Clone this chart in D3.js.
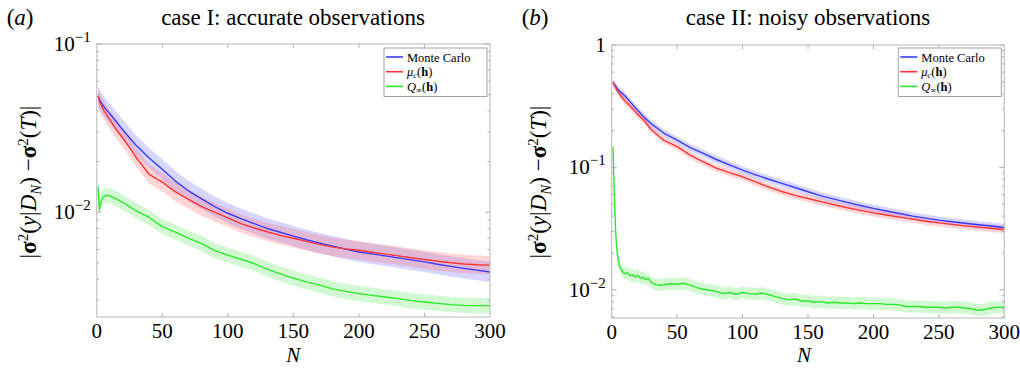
<!DOCTYPE html>
<html>
<head>
<meta charset="utf-8">
<script src="https://cdn.jsdelivr.net/npm/d3@7"></script>
<style>
  body { margin: 0; background: #fff; }
  svg { display: block; font-family: "Liberation Serif", "Times New Roman", serif; }
</style>
</head>
<body>
<svg id="chart" width="1020" height="369"></svg>
<script>
// sample sizes shared by the smooth curves
const nGrid = [1, 2, 3, 5, 7, 10, 15, 20, 25, 30, 40, 50, 60, 70, 80, 90, 100, 110, 120, 130, 140,
  150, 160, 170, 180, 190, 200, 210, 220, 230, 240, 250, 260, 270, 280, 290, 300];

// (a) case I: accurate observations
const mcA = [0.0490, 0.0470, 0.0455, 0.0430, 0.0410, 0.0385, 0.0345, 0.0308, 0.0277, 0.0250, 0.0210,
  0.0180, 0.0153, 0.0134, 0.0120, 0.0108, 0.00985, 0.00915, 0.00855, 0.00800, 0.00760,
  0.00720, 0.00685, 0.00655, 0.00628, 0.00603, 0.00580, 0.00565, 0.00550, 0.00535, 0.00520,
  0.00506, 0.00490, 0.00476, 0.00463, 0.00452, 0.00441];
const muA = [0.0490, 0.0460, 0.0440, 0.0410, 0.0385, 0.0355, 0.0310, 0.0275, 0.0243, 0.0212, 0.0168,
  0.0151, 0.0132, 0.0119, 0.0108, 0.0100, 0.00925, 0.00855, 0.00805, 0.00765, 0.00728,
  0.00700, 0.00670, 0.00643, 0.00620, 0.00605, 0.00594, 0.00578, 0.00563, 0.00550, 0.00536,
  0.00523, 0.00511, 0.00500, 0.00492, 0.00487, 0.00484];
const qA = [0.0142, 0.0103, 0.0115, 0.0123, 0.0126, 0.0125, 0.0120, 0.0114, 0.0108, 0.0102, 0.0093,
  0.0082, 0.0076, 0.0070, 0.0065, 0.0059, 0.00555, 0.00525, 0.00495, 0.00458, 0.00430,
  0.00405, 0.00385, 0.00368, 0.00350, 0.00338, 0.00328, 0.00320, 0.00313, 0.00306, 0.00298,
  0.00292, 0.00287, 0.00282, 0.00279, 0.00278, 0.00278];

// (b) case II: noisy observations
const mcB = [0.492, 0.475, 0.460, 0.430, 0.410, 0.385, 0.335, 0.292, 0.255, 0.228, 0.190,
  0.167, 0.145, 0.130, 0.116, 0.105, 0.095, 0.087, 0.080, 0.0740, 0.0685,
  0.0632, 0.0585, 0.0550, 0.0518, 0.0488, 0.0462, 0.0440, 0.0420, 0.0400, 0.0385,
  0.0371, 0.0360, 0.0350, 0.0340, 0.0332, 0.0323];
const muB = [0.492, 0.470, 0.450, 0.410, 0.385, 0.350, 0.310, 0.270, 0.240, 0.205, 0.166,
  0.148, 0.126, 0.111, 0.0985, 0.0905, 0.0838, 0.0760, 0.0690, 0.0635, 0.0590,
  0.0557, 0.0525, 0.0495, 0.0468, 0.0445, 0.0425, 0.0408, 0.0392, 0.0378, 0.0363,
  0.0352, 0.0342, 0.0333, 0.0325, 0.0318, 0.0311];
const nQB = [1, 2, 3, 4, 5, 6, 8, 10, 12, 14, 16, 18, 20, 22, 24, 26, 28, 30, 32, 35,
  40, 45, 50, 55, 60, 65, 70, 75, 80, 85, 90, 95, 100, 105, 110, 115, 120, 125, 130, 135,
  140, 145, 150, 155, 160, 165, 170, 175, 180, 185, 190, 195, 200, 205, 210, 215, 220, 225,
  230, 235, 240, 245, 250, 255, 260, 265, 270, 275, 280, 285, 290, 295, 300];
const qB = [0.147, 0.060, 0.030, 0.021, 0.0175, 0.0155, 0.0142, 0.0135, 0.0138, 0.0130, 0.0133,
  0.0127, 0.0131, 0.0124, 0.0127, 0.0121, 0.0124, 0.0116, 0.0112, 0.0109,
  0.0110, 0.0112, 0.0111, 0.0113, 0.0109, 0.0104, 0.0101, 0.0099, 0.0097, 0.0093, 0.0095, 0.0092,
  0.0095, 0.0093, 0.0092, 0.0094, 0.0091, 0.0088, 0.0085, 0.0083, 0.0084, 0.0081, 0.0081, 0.0079,
  0.0080, 0.0078, 0.0079, 0.0078, 0.0078, 0.0077, 0.0078, 0.0077, 0.0077, 0.0077, 0.0076, 0.0076,
  0.0075, 0.0073, 0.0073, 0.0073, 0.0072, 0.0072, 0.0072, 0.0071, 0.0072, 0.0072, 0.0071, 0.0070,
  0.0068, 0.0069, 0.0071, 0.0072, 0.0072];

// half width of the shaded band, in decades
const bandA = [0.06, 0.055, 0.045];
const bandB = [0.03, 0.03, 0.05];

const xTicks = [0, 50, 100, 150, 200, 250, 300];
const seriesNames = ['Monte Carlo', 'mu', 'Q'];
const lineColors = ['#3a3aff', '#ff3434', '#2ee82e'];
const bandColors = ['#6a6aff', '#ff6a6a', '#5ee85e'];

const svg = d3.select('#chart');

const panels = [
  { tag: 'a', title: 'case I: accurate observations', x0: 96.7, x1: 490, y0: 44, y1: 317,
    yDomain: [0.00238, 0.1], yLabelX: 36,
    series: [[nGrid, mcA], [nGrid, muA], [nGrid, qA]], band: bandA },
  { tag: 'b', title: 'case II: noisy observations', x0: 611.7, x1: 1004.3, y0: 45, y1: 318,
    yDomain: [0.00588, 1], yLabelX: 546,
    series: [[nGrid, mcB], [nGrid, muB], [nQB, qB]], band: bandB }
];

panels.forEach((p, pi) => {
  const x = d3.scaleLinear().domain([0, 300]).range([p.x0, p.x1]);
  const y = d3.scaleLog().domain(p.yDomain).range([p.y1, p.y0]);

  const clipId = 'clip' + pi;
  svg.append('clipPath').attr('id', clipId)
    .append('rect')
    .attr('x', p.x0).attr('y', p.y0)
    .attr('width', p.x1 - p.x0).attr('height', p.y1 - p.y0);

  const plot = svg.append('g').attr('clip-path', `url(#${clipId})`);

  // shaded bands
  p.series.forEach(([ns, vals], si) => {
    const f = Math.pow(10, p.band[si]);
    const area = d3.area()
      .x((d, i) => x(ns[i]))
      .y0((d) => y(d / f))
      .y1((d) => y(d * f));
    plot.append('path')
      .attr('d', area(vals))
      .attr('fill', bandColors[si])
      .attr('fill-opacity', 0.28);
  });

  // mean curves
  p.series.forEach(([ns, vals], si) => {
    const line = d3.line().x((d, i) => x(ns[i])).y((d) => y(d));
    plot.append('path')
      .attr('d', line(vals))
      .attr('fill', 'none')
      .attr('stroke', lineColors[si])
      .attr('stroke-width', 1.4)
      .attr('stroke-linejoin', 'round');
  });

  // frame
  svg.append('rect')
    .attr('x', p.x0).attr('y', p.y0)
    .attr('width', p.x1 - p.x0).attr('height', p.y1 - p.y0)
    .attr('fill', 'none').attr('stroke', '#c4c4c4').attr('stroke-width', 1.2);

  // x ticks (inward, top and bottom)
  const tickG = svg.append('g').attr('stroke', '#b0b0b0').attr('stroke-width', 1);
  xTicks.slice(1, -1).forEach((t) => {
    tickG.append('line').attr('x1', x(t)).attr('x2', x(t)).attr('y1', p.y1).attr('y2', p.y1 - 4);
    tickG.append('line').attr('x1', x(t)).attr('x2', x(t)).attr('y1', p.y0).attr('y2', p.y0 + 4);
  });

  // y ticks (log minor + decades, both sides)
  const [lo, hi] = p.yDomain;
  for (let e = Math.floor(Math.log10(lo)); e <= Math.ceil(Math.log10(hi)); e++) {
    for (let k = 1; k <= 9; k++) {
      const v = k * Math.pow(10, e);
      if (v < lo || v > hi) continue;
      const len = k === 1 ? 5 : 2.5;
      const yy = y(v);
      tickG.append('line').attr('x1', p.x0).attr('x2', p.x0 + len).attr('y1', yy).attr('y2', yy);
      tickG.append('line').attr('x1', p.x1).attr('x2', p.x1 - len).attr('y1', yy).attr('y2', yy);
    }
  }

  // x tick labels
  xTicks.forEach((t) => {
    svg.append('text')
      .attr('x', x(t)).attr('y', p.y1 + 21)
      .attr('text-anchor', 'middle')
      .attr('font-size', '21px')
      .text(t);
  });

  // y tick labels at decades
  for (let e = Math.ceil(Math.log10(lo)); e <= Math.floor(Math.log10(hi)); e++) {
    const t = svg.append('text')
      .attr('x', p.x0 - 6).attr('y', y(Math.pow(10, e)) + 7)
      .attr('text-anchor', 'end')
      .attr('font-size', '21px');
    if (e === 0) {
      t.text('1');
    } else {
      t.append('tspan').text('10');
      t.append('tspan').attr('dy', -9).attr('font-size', '15px').text('\u2212' + (-e));
    }
  }

  // x axis title
  svg.append('text')
    .attr('x', (p.x0 + p.x1) / 2 - (pi ? 4 : 0)).attr('y', 362)
    .attr('text-anchor', 'middle')
    .attr('font-size', '21px').attr('font-style', 'italic')
    .text('N');

  // y axis title
  const yt = svg.append('text')
    .attr('transform', `translate(${p.yLabelX},182) rotate(-90)`)
    .attr('text-anchor', 'middle')
    .attr('font-size', '23px');
  yt.append('tspan').text('|');
  yt.append('tspan').attr('font-weight', 'bold').text('\u03c3');
  yt.append('tspan').attr('dy', -8).attr('font-size', '15px').text('2');
  yt.append('tspan').attr('dy', 8).text('(');
  yt.append('tspan').attr('font-style', 'italic').text('y');
  yt.append('tspan').text('|');
  yt.append('tspan').attr('font-style', 'italic').text('D');
  yt.append('tspan').attr('dy', 5).attr('font-size', '15px').attr('font-style', 'italic').text('N');
  yt.append('tspan').attr('dy', -5).text(') \u2212');
  yt.append('tspan').attr('font-weight', 'bold').text('\u03c3');
  yt.append('tspan').attr('dy', -8).attr('font-size', '15px').text('2');
  yt.append('tspan').attr('dy', 8).text('(');
  yt.append('tspan').attr('font-style', 'italic').text('T');
  yt.append('tspan').text(')|');

  // panel tag and title
  const tag = svg.append('text')
    .attr('x', p.x0 - 90).attr('y', 25)
    .attr('font-size', '23px');
  tag.append('tspan').text('(');
  tag.append('tspan').attr('font-style', 'italic').text(p.tag);
  tag.append('tspan').text(')');

  svg.append('text')
    .attr('x', pi ? 808 : 293).attr('y', 25)
    .attr('text-anchor', 'middle')
    .attr('font-size', '23px')
    .text(p.title);

  // legend
  const lw = 103, lh = 48.5;
  const lx = p.x1 - 3 - lw, ly = 48;
  const lg = svg.append('g');
  lg.append('rect')
    .attr('x', lx).attr('y', ly).attr('width', lw).attr('height', lh)
    .attr('fill', '#fff').attr('stroke', '#9a9a9a').attr('stroke-width', 0.9);
  seriesNames.forEach((name, si) => {
    const ry = ly + 9 + si * 14.7;
    lg.append('line')
      .attr('x1', lx + 2).attr('x2', lx + 19).attr('y1', ry).attr('y2', ry)
      .attr('stroke', lineColors[si]).attr('stroke-width', 1.6);
    const t = lg.append('text')
      .attr('x', lx + 23).attr('y', ry + 4.5)
      .attr('font-size', '12.5px');
    if (name === 'mu') {
      t.append('tspan').attr('font-style', 'italic').text('\u03bc');
      t.append('tspan').attr('dy', 2).attr('font-size', '8.5px').attr('font-style', 'italic').text('c');
      t.append('tspan').attr('dy', -2).text('(');
      t.append('tspan').attr('font-weight', 'bold').text('h');
      t.append('tspan').text(')');
    } else if (name === 'Q') {
      t.append('tspan').attr('font-style', 'italic').text('Q');
      t.append('tspan').attr('dy', 2).attr('font-size', '8.5px').text('\u221e');
      t.append('tspan').attr('dy', -2).text('(');
      t.append('tspan').attr('font-weight', 'bold').text('h');
      t.append('tspan').text(')');
    } else {
      t.text(name);
    }
  });
});
</script>
</body>
</html>
